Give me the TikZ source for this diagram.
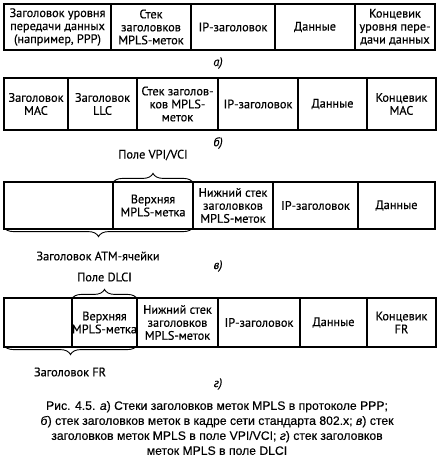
\documentclass[tikz,border=0pt]{standalone}
\usepackage{fontspec}
\setmainfont{PT Sans}
\newfontfamily\dfont[FakeBold=0.4]{PT Sans}
\newfontfamily\capfont[FakeBold=0.3]{Liberation Sans}
\usetikzlibrary{decorations.pathreplacing}
\begin{document}
\begin{tikzpicture}[x=1pt,y=-1pt,
  cell/.style={draw, line width=1.2pt, inner sep=0pt, align=center,
    font=\dfont\fontsize{12.3}{13}\selectfont},
  lbl/.style={inner sep=0pt, font=\dfont\fontsize{12.3}{13}\selectfont},
  sub/.style={inner sep=0pt, font=\dfont\itshape\fontsize{12.3}{13}\selectfont},
  brc/.style={decorate, decoration={brace, amplitude=10pt}, line width=0.9pt},
  capt/.style={inner sep=0pt, align=center, font=\capfont\fontsize{12.2}{15}\selectfont}]
\useasboundingbox (0,0) rectangle (440,459);
% row a
\node[cell, minimum width=107pt, minimum height=46pt] (a1) at (57.5,27) {Заголовок уровня\\передачи данных\\(например, PPP)};
\node[cell, minimum width=80pt, minimum height=46pt] (a2) at (151,27) {Стек\\заголовков\\MPLS-меток};
\node[cell, minimum width=84pt, minimum height=46pt] (a3) at (233,27) {IP-заголовок};
\node[cell, minimum width=80pt, minimum height=46pt] (a4) at (315,27) {Данные};
\node[cell, minimum width=80pt, minimum height=46pt] (a5) at (395,27) {Концевик\\уровня пере-\\дачи данных};
\node[sub] (la) at (218,63) {а)};
% row b
\node[cell, minimum width=64pt, minimum height=52pt] (b1) at (36,104) {Заголовок\\MAC};
\node[cell, minimum width=69pt, minimum height=52pt] (b2) at (102.5,104) {Заголовок\\LLC};
\node[cell, minimum width=81pt, minimum height=52pt] (b3) at (177.5,104) {Стек заголов-\\ков MPLS-\\меток};
\node[cell, minimum width=80pt, minimum height=52pt] (b4) at (258,104) {IP-заголовок};
\node[cell, minimum width=69pt, minimum height=52pt] (b5) at (332.5,104) {Данные};
\node[cell, minimum width=69pt, minimum height=52pt] (b6) at (401.5,104) {Концевик\\MAC};
\node[sub] (lb) at (218,143) {б)};
% row c
\node[cell, minimum width=109pt, minimum height=47pt] (c1) at (58.5,205.5) {};
\node[cell, minimum width=80pt, minimum height=47pt] (c2) at (153,205.5) {Верхняя\\MPLS-метка};
\node[cell, minimum width=80pt, minimum height=47pt] (c3) at (233,205.5) {Нижний стек\\заголовков\\MPLS-меток};
\node[cell, minimum width=85pt, minimum height=47pt] (c4) at (315.5,205.5) {IP-заголовок};
\node[cell, minimum width=77pt, minimum height=47pt] (c5) at (396.5,205.5) {Данные};
\node[lbl] (vpi) at (153,155) {Поле VPI/VCI};
\draw[brc] ([yshift=-2pt]c2.north west) -- ([yshift=-2pt]c2.north east);
\draw[brc] ([yshift=3pt]c2.south east) -- ([yshift=3pt]c1.south west);
\node[lbl] (atm) at (98,256) {Заголовок ATM-ячейки};
\node[sub] (lc) at (218,266) {в)};
% row d
\node[cell, minimum width=68pt, minimum height=49pt] (d1) at (38,322.5) {};
\node[cell, minimum width=65pt, minimum height=49pt] (d2) at (104.5,322.5) {Верхняя\\MPLS-метка};
\node[cell, minimum width=81pt, minimum height=49pt] (d3) at (177.5,322.5) {Нижний стек\\заголовков\\MPLS-меток};
\node[cell, minimum width=82pt, minimum height=49pt] (d4) at (259,322.5) {IP-заголовок};
\node[cell, minimum width=67pt, minimum height=49pt] (d5) at (333.5,322.5) {Данные};
\node[cell, minimum width=69pt, minimum height=49pt] (d6) at (401.5,322.5) {Концевик\\FR};
\node[lbl] (dlci) at (104.5,277) {Поле DLCI};
\draw[brc] ([yshift=-2pt]d2.north west) -- ([yshift=-2pt]d2.north east);
\draw[brc] ([yshift=3pt]d2.south east) -- ([yshift=3pt]d1.south west);
\node[lbl] (fr) at (70,372) {Заголовок FR};
\node[sub] (ld) at (218,384) {г)};
% caption
\node[capt] (cap) at (217,428) {Рис. 4.5. \textit{а}) Стеки заголовков меток MPLS в протоколе PPP;\\
\textit{б}) стек заголовков меток в кадре сети стандарта 802.x; \textit{в}) стек\\
заголовков меток MPLS в поле VPI/VCI; \textit{г}) стек заголовков\\
меток MPLS в поле DLCI};
\end{tikzpicture}
\end{document}
